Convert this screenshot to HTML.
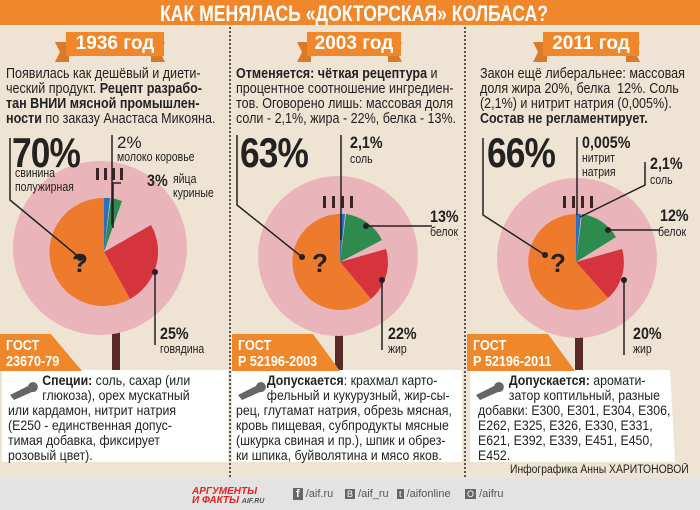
<!DOCTYPE html>
<html><head><meta charset="utf-8"><style>
*{margin:0;padding:0;box-sizing:border-box}
body{width:700px;height:510px;overflow:hidden;background:#efe4d3;font-family:"Liberation Sans",sans-serif;color:#222;position:relative}
.a{position:absolute}
.n{transform:scaleX(.84);transform-origin:0 0;white-space:nowrap}
.t{font-size:14.5px;line-height:15px;transform:scaleX(.865)}
.big{font-size:42px;font-weight:bold;line-height:40px;letter-spacing:-1px}
.pc{font-size:17px;font-weight:bold;line-height:17px}
.lb{font-size:12.5px;line-height:14px}
.gost{background:#f0872a;color:#fff;font-weight:bold;font-size:15px;line-height:16px;padding:4px 6px}
.box{font-size:14px;line-height:15px;white-space:nowrap;transform:scaleX(.88)}
.yr{background:#f0872a;color:#fff;font-weight:bold;font-size:19px;text-align:center;height:24px;line-height:24px}
.div{border-left:2px dotted #555;width:0;top:27px;height:450px}
</style></head><body>
<div class="a" style="left:0;top:0;width:700px;height:25px;background:#f0872a"></div>
<div class="a n" style="left:160px;top:1px;color:#fff;font-weight:bold;font-size:22px;transform:scaleX(.8)">КАК МЕНЯЛАСЬ «ДОКТОРСКАЯ» КОЛБАСА?</div>
<div class="a div" style="left:229px"></div>
<div class="a div" style="left:464px"></div>
<div class="a" style="left:0;top:478px;width:700px;height:32px;background:#e3e3e3"></div>

<svg class="a" style="left:0;top:0" width="700" height="510">
<g fill="#d9792a"><path d="M55 42h14v20h-14l5-10z"/><path d="M165 42h-14v20h14l-5-10z"/>
<path d="M297 42h14v20h-14l5-10z"/><path d="M402 42h-14v20h14l-5-10z"/>
<path d="M533 42h14v20h-14l5-10z"/><path d="M640 42h-14v20h14l-5-10z"/></g>
<g fill="#5a2a2a"><rect x="112" y="325" width="8" height="60"/><rect x="335" y="325" width="8" height="45"/><rect x="575" y="325" width="8" height="45"/></g>
<g fill="#eab4bb"><circle cx="100" cy="248" r="87"/><circle cx="338" cy="256" r="80"/><circle cx="577" cy="258" r="80"/></g>
<g fill="#3a2525"><rect x="96" y="168" width="3" height="12"/><rect x="104" y="168" width="3" height="12"/><rect x="112" y="168" width="3" height="12"/><rect x="120" y="168" width="3" height="12"/>
<rect x="323" y="196" width="3" height="12"/><rect x="332" y="196" width="3" height="12"/><rect x="341" y="196" width="3" height="12"/><rect x="350" y="196" width="3" height="12"/>
<rect x="563" y="196" width="3" height="12"/><rect x="572" y="196" width="3" height="12"/><rect x="581" y="196" width="3" height="12"/><rect x="590" y="196" width="3" height="12"/></g>
<g transform="translate(104,252)">
<path d="M0 0L0 -54A54 54 0 0 1 6 -54Z" fill="#2b6fbf"/>
<path d="M0 0L7 -54A54 54 0 0 1 18 -51Z" fill="#2e8b4e"/>
<path d="M0 0L47 -27A54 54 0 0 1 26 47Z" fill="#d6343d"/>
<path d="M0 0L26 47A54 54 0 1 1 0 -54Z" fill="#ee7a2c"/></g>
<g transform="translate(340,262)">
<path d="M0 0L0 -48A48 48 0 0 1 5 -48Z" fill="#2b6fbf"/>
<path d="M0 0L6 -48A48 48 0 0 1 42 -22Z" fill="#2e8b4e"/>
<path d="M0 0L46 -13A48 48 0 0 1 31 37Z" fill="#d6343d"/>
<path d="M0 0L31 37A48 48 0 1 1 0 -48Z" fill="#ee7a2c"/></g>
<g transform="translate(576,262)">
<path d="M0 0L0 -48A48 48 0 0 1 5 -48Z" fill="#2b6fbf"/>
<path d="M0 0L6 -48A48 48 0 0 1 40 -25Z" fill="#2e8b4e"/>
<path d="M0 0L46 -13A48 48 0 0 1 32 36Z" fill="#d6343d"/>
<path d="M0 0L32 36A48 48 0 1 1 0 -48Z" fill="#ee7a2c"/></g>
<g font-family="Liberation Sans,sans-serif" font-weight="bold" font-size="26" fill="#222" text-anchor="middle">
<text x="80" y="272">?</text><text x="320" y="272">?</text><text x="558" y="272">?</text></g>
<g stroke="#222" stroke-width="1.5" fill="none">
<path d="M10 138V200L80 258"/><path d="M112 135V225"/><path d="M121 183H113V228"/><path d="M155 272V345"/>
<path d="M237 135V205L302 257"/><path d="M341 135V240"/><path d="M366 226H432"/><path d="M382 280V350"/>
<path d="M483 138V215L545 255"/><path d="M577 137V215"/><path d="M645 162V185L580 217"/><path d="M608 230H660"/><path d="M624 280V355"/></g>
<g fill="#222"><circle cx="80" cy="258" r="3"/><circle cx="155" cy="272" r="3"/><circle cx="302" cy="257" r="3"/><circle cx="382" cy="280" r="3"/><circle cx="366" cy="226" r="3"/><circle cx="545" cy="255" r="3"/><circle cx="608" cy="230" r="3"/><circle cx="624" cy="280" r="3"/></g>
<path d="M2 370H228V462H2Z M232 370H462V462H232Z M470 370H670L675 462H470Z" fill="#fff"/>
<g fill="#666"><path d="M10 395l18-9a5 5 0 1 1 4 6l-18 8z"/><path d="M238 395l18-9a5 5 0 1 1 4 6l-18 8z"/><path d="M476 395l18-9a5 5 0 1 1 4 6l-18 8z"/></g>
</svg>

<div class="a yr" style="left:66px;top:32px;width:98px">1936 год</div>
<div class="a yr" style="left:307px;top:32px;width:94px">2003 год</div>
<div class="a yr" style="left:543px;top:32px;width:96px">2011 год</div>

<div class="a t n" style="left:6px;top:67px">Появилась как дешёвый и диети-<br>ческий продукт. <b>Рецепт разрабо-<br>тан ВНИИ мясной промышлен-<br>ности</b> по заказу Анастаса Микояна.</div>
<div class="a t n" style="left:236px;top:67px"><b>Отменяется: чёткая рецептура</b> и<br>процентное соотношение ингредиен-<br>тов. Оговорено лишь: массовая доля<br>соли - 2,1%, жира - 22%, белка - 13%.</div>
<div class="a t n" style="left:480px;top:67px">Закон ещё либеральнее: массовая<br>доля жира 20%, белка&nbsp; 12%. Соль<br>(2,1%) и нитрит натрия (0,005%).<br><b>Состав не регламентирует.</b></div>

<div class="a big n" style="left:12px;top:133px">70%</div>
<div class="a lb n" style="left:15px;top:166px">свинина<br>полужирная</div>
<div class="a pc" style="left:117px;top:134px;font-weight:normal">2%</div>
<div class="a lb n" style="left:117px;top:150px">молоко коровье</div>
<div class="a pc n" style="left:147px;top:172px">3%</div>
<div class="a lb n" style="left:173px;top:172px">яйца<br>куриные</div>
<div class="a pc n" style="left:160px;top:325px">25%</div>
<div class="a lb n" style="left:160px;top:342px">говядина</div>

<div class="a big n" style="left:240px;top:133px">63%</div>
<div class="a pc n" style="left:350px;top:134px">2,1%</div>
<div class="a lb n" style="left:350px;top:152px">соль</div>
<div class="a pc n" style="left:430px;top:208px">13%</div>
<div class="a lb n" style="left:430px;top:225px">белок</div>
<div class="a pc n" style="left:388px;top:325px">22%</div>
<div class="a lb n" style="left:388px;top:342px">жир</div>

<div class="a big n" style="left:487px;top:133px">66%</div>
<div class="a pc n" style="left:582px;top:134px">0,005%</div>
<div class="a lb n" style="left:582px;top:151px">нитрит<br>натрия</div>
<div class="a pc n" style="left:650px;top:155px">2,1%</div>
<div class="a lb n" style="left:650px;top:173px">соль</div>
<div class="a pc n" style="left:660px;top:207px">12%</div>
<div class="a lb n" style="left:658px;top:225px">белок</div>
<div class="a pc n" style="left:633px;top:325px">20%</div>
<div class="a lb n" style="left:633px;top:342px">жир</div>

<div class="a gost" style="left:0;top:334px;width:82px;height:37px;clip-path:polygon(0 0,62% 0,100% 100%,0 100%)"><div class="n">ГОСТ<br>23670-79</div></div>
<div class="a gost" style="left:232px;top:334px;width:108px;height:37px;clip-path:polygon(0 0,75% 0,100% 100%,0 100%)"><div class="n">ГОСТ<br>Р 52196-2003</div></div>
<div class="a gost" style="left:467px;top:334px;width:108px;height:37px;clip-path:polygon(0 0,75% 0,100% 100%,0 100%)"><div class="n">ГОСТ<br>Р 52196-2011</div></div>

<div class="a box n" style="left:8px;top:373px">&nbsp;&nbsp;&nbsp;&nbsp;&nbsp;&nbsp;&nbsp;&nbsp;&nbsp;&nbsp;<b>Специи:</b> соль, сахар (или<br>&nbsp;&nbsp;&nbsp;&nbsp;&nbsp;&nbsp;&nbsp;&nbsp;&nbsp;&nbsp;глюкоза), орех мускатный<br>или кардамон, нитрит натрия<br>(Е250 - единственная допус-<br>тимая добавка, фиксирует<br>розовый цвет).</div>
<div class="a box n" style="left:236px;top:373px">&nbsp;&nbsp;&nbsp;&nbsp;&nbsp;&nbsp;&nbsp;&nbsp;&nbsp;<b>Допускается</b>: крахмал карто-<br>&nbsp;&nbsp;&nbsp;&nbsp;&nbsp;&nbsp;&nbsp;&nbsp;&nbsp;фельный и кукурузный, жир-сы-<br>рец, глутамат натрия, обрезь мясная,<br>кровь пищевая, субпродукты мясные<br>(шкурка свиная и пр.), шпик и обрез-<br>ки шпика, буйволятина и мясо яков.</div>
<div class="a box n" style="left:478px;top:373px">&nbsp;&nbsp;&nbsp;&nbsp;&nbsp;&nbsp;&nbsp;&nbsp;&nbsp;<b>Допускается:</b> аромати-<br>&nbsp;&nbsp;&nbsp;&nbsp;&nbsp;&nbsp;&nbsp;&nbsp;&nbsp;затор коптильный, разные<br>добавки: Е300, Е301, Е304, Е306,<br>Е262, Е325, Е326, Е330, Е331,<br>Е621, Е392, Е339, Е451, Е450,<br>Е452.</div>
<div class="a n" style="left:510px;top:464px;font-size:11.5px;transform:scaleX(.9)">Инфографика Анны ХАРИТОНОВОЙ</div>

<div class="a" style="left:192px;top:487px;color:#e52421;font-weight:bold;font-style:italic;font-size:10px;line-height:9px">АРГУМЕНТЫ<br>И ФАКТЫ <span style="color:#555;font-size:7px">AIF.RU</span></div>
<div class="a" style="left:293px;top:488px;font-size:11px;color:#555"><span style="background:#666;color:#fff;padding:0 3px;font-weight:bold">f</span> /aif.ru</div>
<div class="a" style="left:345px;top:488px;font-size:11px;color:#555"><span style="background:#666;color:#fff;padding:0 2px;font-size:9px">В</span> /aif_ru</div>
<div class="a" style="left:397px;top:488px;font-size:11px;color:#555"><span style="background:#666;color:#fff;padding:0 2px;font-size:9px">t</span> /aifonline</div>
<div class="a" style="left:465px;top:488px;font-size:11px;color:#555"><span style="background:#666;color:#fff;padding:0 2px;font-size:9px">О</span> /aifru</div>
</body></html>
